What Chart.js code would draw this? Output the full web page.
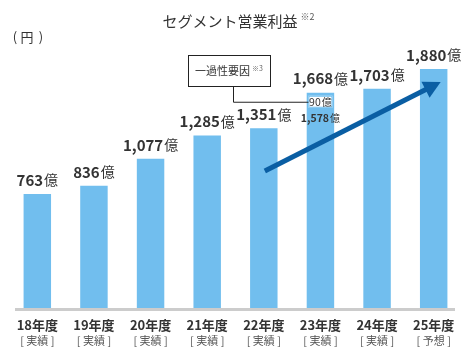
<!DOCTYPE html>
<html lang="ja">
<head>
<meta charset="utf-8">
<script src="https://cdn.jsdelivr.net/npm/chart.js@4/dist/chart.umd.min.js"></script>
<style>
html,body{margin:0;padding:0;background:#fff;}
#wrap{width:470px;height:360px;position:relative;}
</style>
</head>
<body>
<div id="wrap"><canvas id="c" width="470" height="360"></canvas></div>
<script>
// ---- data ----
const categories = ['18年度','19年度','20年度','21年度','22年度','23年度','24年度','25年度'];
const statusLabels = ['実績','実績','実績','実績','実績','実績','実績','予想'];
const profits = [763, 836, 1077, 1285, 1351, 1668, 1703, 1880];
const fy23Index = 5;
const fy23OneTime = 90;
const fy23Underlying = 1578;
const titleText = 'セグメント営業利益';
const titleNote = '※2';
const unitText = '円';
const oneTimeLabel = '一過性要因';
const oneTimeNote = '※3';
const arrowFrom = {index: 4, value: 968};
const arrowTo = {index: 7, value: 1764};

const FONT = '"Noto Sans CJK JP", "Noto Sans", sans-serif';
const BAR = '#71BEEE';
const TEXT = '#333333';

function fmt(v){ return v.toLocaleString('en-US'); }

function drawValue(ctx, v, cx, cy, numSize, unitSize, bold){
  ctx.save();
  ctx.textBaseline = 'middle';
  ctx.textAlign = 'left';
  const num = fmt(v);
  ctx.font = (bold ? 'bold ' : '') + numSize + 'px ' + FONT;
  const w1 = ctx.measureText(num).width;
  ctx.font = unitSize + 'px ' + FONT;
  const w2 = ctx.measureText('億').width;
  const gap = 1;
  let x0 = cx - (w1 + gap + w2) / 2;
  ctx.fillStyle = TEXT;
  ctx.font = (bold ? 'bold ' : '') + numSize + 'px ' + FONT;
  ctx.fillText(num, x0, cy);
  ctx.font = unitSize + 'px ' + FONT;
  ctx.fillText('億', x0 + w1 + gap, cy);
  ctx.restore();
}

const decor = {
  id: 'decor',
  afterDatasetsDraw(chart){
    const ctx = chart.ctx;
    const xs = chart.scales.x, ys = chart.scales.y;
    const area = chart.chartArea;
    ctx.save();
    // baseline
    ctx.fillStyle = '#cccccc';
    ctx.fillRect(15, area.bottom, 440, 3);

    // title
    ctx.fillStyle = TEXT;
    ctx.textBaseline = 'middle';
    ctx.textAlign = 'center';
    ctx.font = '15px ' + FONT;
    ctx.fillText(titleText, 230, 21);
    const tw = ctx.measureText(titleText).width;
    ctx.textAlign = 'left';
    ctx.font = '9px ' + FONT;
    ctx.fillStyle = '#555';
    ctx.fillText(titleNote, 230 + tw/2 + 3, 17);
    // unit "（円）"
    ctx.fillStyle = TEXT;
    ctx.textAlign = 'center';
    ctx.font = '13px ' + FONT;
    ctx.fillText('(', 15, 37);
    ctx.fillText(unitText, 27, 37);
    ctx.fillText(')', 41, 37);

    // value labels
    profits.forEach((v, i) => {
      const px = xs.getPixelForValue(i);
      const py = ys.getPixelForValue(v) - 14;
      drawValue(ctx, v, px, py, 15, 14, true);
    });

    // x labels
    categories.forEach((c, i) => {
      const px = xs.getPixelForValue(i);
      ctx.textAlign = 'center';
      ctx.fillStyle = TEXT;
      ctx.font = 'bold 13px ' + FONT;
      ctx.fillText(c, px, 325);
      ctx.fillStyle = '#555';
      ctx.font = '11px ' + FONT;
      ctx.fillText('[ ' + statusLabels[i] + ' ]', px, 341);
    });

    // FY23 one-time factor box
    const cx23 = xs.getPixelForValue(fy23Index);
    const top23 = ys.getPixelForValue(profits[fy23Index]);
    const bx = cx23 - 12, by = top23 + 3, bw = 24, bh = 12;
    ctx.fillStyle = '#fff';
    ctx.fillRect(bx, by, bw, bh);
    ctx.strokeStyle = BAR;
    ctx.lineWidth = 1;
    ctx.strokeRect(bx + 0.5, by + 0.5, bw - 1, bh - 1);
    drawValue(ctx, fy23OneTime, cx23, by + bh/2 + 0.5, 10.5, 10, false);
    drawValue(ctx, fy23Underlying, cx23, by + 22, 10.5, 10, true);

    // callout box
    const cbx = 188, cby = 55, cbw = 82, cbh = 31;
    ctx.strokeStyle = '#222';
    ctx.lineWidth = 1;
    ctx.strokeRect(cbx + 0.5, cby + 0.5, cbw, cbh);
    ctx.fillStyle = TEXT;
    ctx.font = '11px ' + FONT;
    ctx.textAlign = 'left';
    const lw = ctx.measureText(oneTimeLabel).width;
    ctx.font = '7px ' + FONT;
    const nw = ctx.measureText(oneTimeNote).width;
    const sx = cbx + cbw/2 - (lw + 2 + nw)/2;
    ctx.font = '11px ' + FONT;
    ctx.fillText(oneTimeLabel, sx, 71);
    ctx.font = '7px ' + FONT;
    ctx.fillStyle = '#666';
    ctx.fillText(oneTimeNote, sx + lw + 2, 68);
    // connector
    ctx.beginPath();
    ctx.moveTo(233.5, cby + cbh + 1);
    ctx.lineTo(233.5, by + bh/2 + 0.5);
    ctx.lineTo(bx, by + bh/2 + 0.5);
    ctx.stroke();

    // arrow
    const x1 = xs.getPixelForValue(arrowFrom.index) + 1;
    const y1 = ys.getPixelForValue(arrowFrom.value);
    const x2 = xs.getPixelForValue(arrowTo.index) + 7;
    const y2 = ys.getPixelForValue(arrowTo.value);
    const ang = Math.atan2(y2 - y1, x2 - x1);
    const headLen = 17, headHalf = 9;
    const bxh = x2 - headLen * Math.cos(ang), byh = y2 - headLen * Math.sin(ang);
    ctx.strokeStyle = '#0A5EA3';
    ctx.fillStyle = '#0A5EA3';
    ctx.lineWidth = 5;
    ctx.lineCap = 'butt';
    ctx.beginPath();
    ctx.moveTo(x1, y1);
    ctx.lineTo(bxh + 2*Math.cos(ang), byh + 2*Math.sin(ang));
    ctx.stroke();
    ctx.beginPath();
    ctx.moveTo(x2, y2);
    ctx.lineTo(bxh + headHalf * Math.sin(ang), byh - headHalf * Math.cos(ang));
    ctx.lineTo(bxh - headHalf * Math.sin(ang), byh + headHalf * Math.cos(ang));
    ctx.closePath();
    ctx.fill();
    ctx.restore();
  }
};

new Chart(document.getElementById('c'), {
  type: 'bar',
  data: {
    labels: categories,
    datasets: [{
      data: profits,
      backgroundColor: BAR,
      borderWidth: 0,
      base: -256,
      barPercentage: 0.485,
      categoryPercentage: 1
    }]
  },
  options: {
    responsive: false,
    animation: false,
    events: [],
    layout: { padding: { left: 9, right: 8, top: 50, bottom: 52 } },
    plugins: { legend: { display: false }, tooltip: { enabled: false }, title: { display: false } },
    scales: {
      x: { display: false, grid: { display: false } },
      y: { display: false, min: -256, max: 2050, grid: { display: false } }
    }
  },
  plugins: [decor]
});
</script>
</body>
</html>
